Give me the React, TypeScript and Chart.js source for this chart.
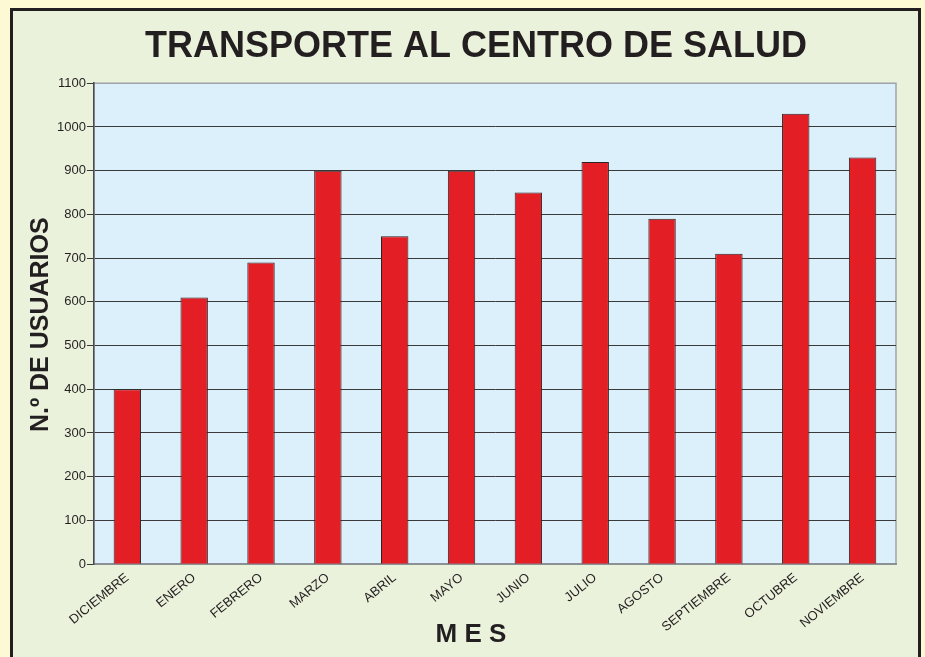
import React, { useEffect, useRef } from "react";
import { Chart, registerables } from "chart.js";

Chart.register(...registerables);

const TITLE = "TRANSPORTE AL CENTRO DE SALUD";
const X_TITLE = "M E S";
const Y_TITLE = "N.º DE USUARIOS";
const months = [
  "DICIEMBRE", "ENERO", "FEBRERO", "MARZO", "ABRIL", "MAYO",
  "JUNIO", "JULIO", "AGOSTO", "SEPTIEMBRE", "OCTUBRE", "NOVIEMBRE",
];
const usuarios = [400, 610, 690, 900, 750, 900, 850, 920, 790, 710, 1030, 930];
const Y_MIN = 0;
const Y_MAX = 1100;
const Y_STEP = 100;

const FONT = "Liberation Sans, Arial, sans-serif";

const plotBg = {
  id: "plotBg",
  beforeDraw(chart: any) {
    const { ctx, chartArea: a } = chart;
    ctx.save();
    ctx.fillStyle = "#DBF0FB";
    ctx.fillRect(a.left, a.top, a.right - a.left, a.bottom - a.top);
    ctx.strokeStyle = "#9EA6AA";
    ctx.lineWidth = 1.5;
    ctx.strokeRect(a.left, a.top, a.right - a.left, a.bottom - a.top);
    ctx.restore();
  },
};

// axis titles placed as in the reference (offset from the plot centre)
const axisTitles = {
  id: "axisTitles",
  afterDraw(chart: any) {
    const { ctx, chartArea: a } = chart;
    ctx.save();
    ctx.fillStyle = "#231F20";
    ctx.textAlign = "center";
    ctx.textBaseline = "middle";
    ctx.font = `bold 25px ${FONT}`;
    ctx.translate(a.left - 53, (a.top + a.bottom) / 2 + 1);
    ctx.rotate(-Math.PI / 2);
    ctx.fillText(Y_TITLE, 0, 0);
    ctx.restore();

    ctx.save();
    ctx.fillStyle = "#231F20";
    ctx.textAlign = "center";
    ctx.textBaseline = "middle";
    ctx.font = `bold 26px ${FONT}`;
    ctx.fillText(X_TITLE, (a.left + a.right) / 2 - 24, a.bottom + 71);
    ctx.restore();
  },
};

export default function App() {
  const ref = useRef<HTMLCanvasElement | null>(null);
  useEffect(() => {
    if (!ref.current) return;
    const chart = new Chart(ref.current, {
      type: "bar",
      data: {
        labels: months,
        datasets: [
          {
            data: usuarios,
            backgroundColor: "#E31E25",
            borderColor: "#2A2526",
            borderWidth: 1,
            categoryPercentage: 1,
            barPercentage: 0.41,
          },
        ],
      },
      options: {
        animation: false,
        responsive: false,
        maintainAspectRatio: false,
        layout: { padding: { left: 56, right: 29, top: 15, bottom: 16 } },
        plugins: {
          legend: { display: false },
          tooltip: { enabled: false },
          title: {
            display: true,
            text: TITLE,
            color: "#231F20",
            font: { family: FONT, size: 36, weight: "bold", lineHeight: 1.2 },
            padding: { top: 10, bottom: 15 },
          },
        },
        scales: {
          x: {
            grid: { display: false, drawTicks: false },
            border: { display: true, color: "#8A9296", width: 2 },
            ticks: {
              color: "#231F20",
              font: { family: FONT, size: 13 },
              minRotation: 39,
              maxRotation: 39,
              padding: 6,
              autoSkip: false,
            },
          },
          y: {
            min: Y_MIN,
            max: Y_MAX,
            grid: {
              color: (c: any) => (c.tick && c.tick.value === Y_MAX ? "#9EA6AA" : "#3A3A3A"),
              lineWidth: 1,
              tickLength: 7,
              tickColor: "#3A3A3A",
            },
            border: { display: true, color: "#4A4A4A", width: 1.5 },
            ticks: {
              stepSize: Y_STEP,
              color: "#231F20",
              font: { family: FONT, size: 13 },
              padding: 1,
              callback: (v: any) => String(v),
            },
          },
        },
      },
      plugins: [plotBg, axisTitles],
    });
    return () => chart.destroy();
  }, []);

  return (
    <div style={{ position: "fixed", left: 0, top: 0, width: 925, height: 657, background: "#FDF9D4", overflow: "hidden" }}>
      <div
        style={{
          position: "absolute",
          left: 10,
          top: 8,
          width: 905,
          height: 700,
          border: "3px solid #231F20",
          background: "#EBF2DC",
        }}
      />
      <canvas ref={ref} width={925} height={657} style={{ position: "absolute", left: 0, top: 0, width: 925, height: 657 }} />
    </div>
  );
}
